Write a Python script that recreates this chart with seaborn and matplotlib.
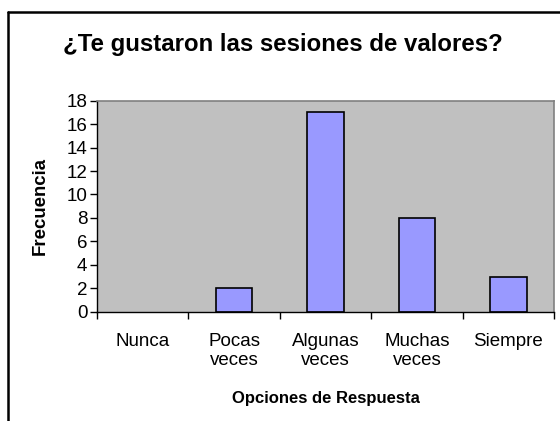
import matplotlib
matplotlib.use("Agg")
import matplotlib.pyplot as plt
from matplotlib.lines import Line2D
import seaborn as sns
import pandas as pd

categories = ["Nunca", "Pocas\nveces", "Algunas\nveces", "Muchas\nveces", "Siempre"]
values = [0, 2, 17, 8, 3]
yticks = [0, 2, 4, 6, 8, 10, 12, 14, 16, 18]

sns.set_theme(style="white")
plt.rcParams['font.family'] = ['Liberation Sans', 'DejaVu Sans']
plt.rcParams.update({"text.color": "black", "axes.labelcolor": "black",
                     "xtick.color": "black", "ytick.color": "black"})

fig = plt.figure(figsize=(5.6, 4.21), dpi=100)
ax = fig.add_axes([97/560, 1 - 311.7/421, 457/560, (311.7 - 100.7)/421])
df = pd.DataFrame({"cat": categories, "val": values})
sns.barplot(data=df, x="cat", y="val", color="#9999FF", saturation=1, width=0.4,
            edgecolor="black", linewidth=1.2, ax=ax)
for p in ax.patches:
    if p.get_height() == 0:
        p.set_visible(False)
ax.set_facecolor("#C0C0C0")
ax.set_xlim(-0.5, 4.5)
ax.set_ylim(0, 18)
ax.set_yticks(yticks)
ax.tick_params(axis='y', direction='out', length=5, width=1, color='black',
               labelcolor='black', labelsize=13.5, pad=2, left=True)
ax.set_xticks(range(len(categories)))
ax.set_xticklabels(categories, fontsize=13.5, linespacing=1.2, color='black')
ax.tick_params(axis='x', length=0, pad=15)
ax.set_xticks([i + 0.5 for i in range(-1, 5)], minor=True)
ax.tick_params(axis='x', which='minor', direction='out', length=5, width=1, color='black', bottom=True)
for s in ["top", "right"]:
    ax.spines[s].set_color("#808080")
    ax.spines[s].set_linewidth(1.2)
for s in ["left", "bottom"]:
    ax.spines[s].set_color("black")
    ax.spines[s].set_linewidth(1)
ax.set_xlabel("Opciones de Respuesta", fontsize=12, fontweight="bold", labelpad=16, color="black")
ax.set_ylabel("Frecuencia", fontsize=13.4, fontweight="bold", labelpad=13, color="black")

fig.text(283/560, 1 - 45/421, "¿Te gustaron las sesiones de valores?", fontsize=17.3,
         fontweight="bold", ha="center", va="center", color="black")

fig.add_artist(Line2D([7.5/560, 7.5/560], [0, 1 - 12/421], transform=fig.transFigure,
                      color="black", linewidth=1.8))
fig.add_artist(Line2D([7.5/560, 1], [1 - 12/421, 1 - 12/421], transform=fig.transFigure,
                      color="black", linewidth=1.8))

fig.savefig("out.png", dpi=100)
